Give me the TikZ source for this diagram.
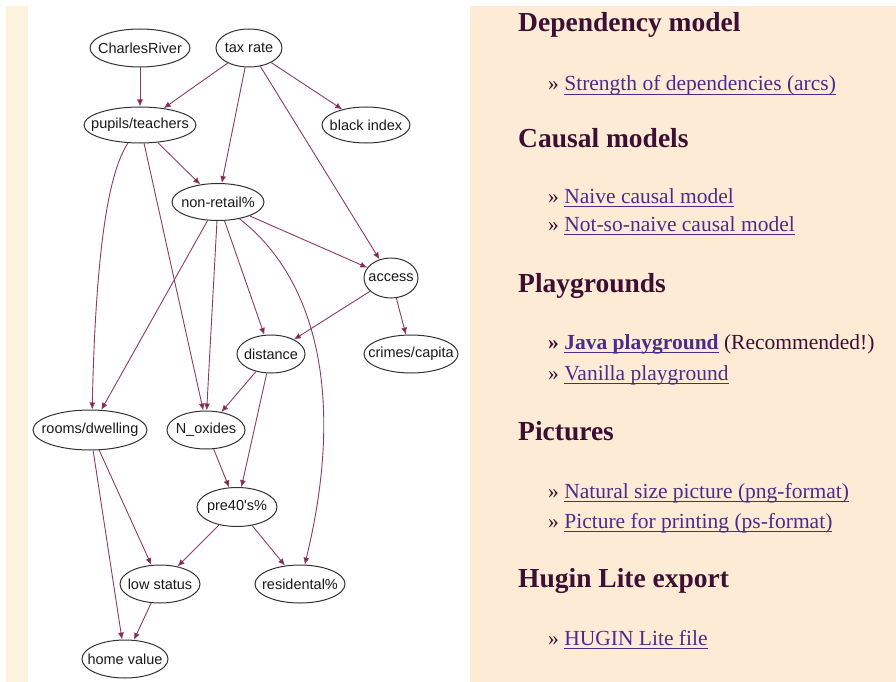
\documentclass[tikz,border=0pt]{standalone}
\usepackage{fontspec}
\setmainfont{Liberation Serif}
\newfontfamily\nodefont{Liberation Sans}
\usetikzlibrary{shapes.geometric,arrows.meta}

\definecolor{pagebg}{HTML}{FDEBD5}
\definecolor{stripbg}{HTML}{FDF2DE}
\definecolor{headcol}{HTML}{3D0F35}
\definecolor{linkcol}{HTML}{4A2C8C}
\definecolor{edgecol}{HTML}{8E3B63}
\definecolor{tipcol}{HTML}{7A1F4A}
\definecolor{nodeline}{HTML}{333333}

% underlined link text, rule sits just below the baseline
\newcommand\ulnk[1]{\setbox0\hbox{#1}\rlap{\rule[-3.6pt]{\wd0}{0.9pt}}\box0\relax}
% variable name set without widening its ellipse
\newcommand\vname[1]{\makebox[0pt]{#1}}

\tikzset{
  var/.style={ellipse, draw=nodeline, line width=1pt, inner sep=0pt,
    font=\nodefont\fontsize{14.5}{16}\selectfont, text=black!90},
  edge/.style={draw=edgecol, line width=0.9pt,
    -{Latex[length=7pt,width=6pt,fill=tipcol]}},
  heading/.style={anchor=base west, inner sep=0pt, text=headcol,
    font=\fontsize{27.5}{30}\selectfont\bfseries},
  linkline/.style={anchor=base west, inner sep=0pt, text=linkcol,
    font=\fontsize{21.5}{24}\selectfont},
}

\begin{document}
\begin{tikzpicture}[x=1pt,y=-1pt]
\useasboundingbox (0,0) rectangle (896,682);
% backgrounds
\fill[white] (0,0) rectangle (896,682);
\fill[pagebg] (6,6) rectangle (896,682);
\fill[stripbg] (6,6) rectangle (28,682);
\fill[white] (28,6) rectangle (470,682);

% variables
\node[var, minimum width=100pt, minimum height=38pt] (cr) at (140,48) {\vname{CharlesRiver}};
\node[var, minimum width=66pt,  minimum height=38pt] (tx) at (249,48) {\vname{tax rate}};
\node[var, minimum width=112pt, minimum height=36pt] (pt) at (140,125) {\vname{pupils/teachers}};
\node[var, minimum width=88pt,  minimum height=36pt] (bi) at (366,125) {\vname{black index}};
\node[var, minimum width=92pt,  minimum height=37pt] (nr) at (218,202) {\vname{non-retail\%}};
\node[var, minimum width=54pt,  minimum height=40pt] (ac) at (391,278) {\vname{access}};
\node[var, minimum width=68pt,  minimum height=38pt] (di) at (271,354) {\vname{distance}};
\node[var, minimum width=94pt,  minimum height=38pt] (cc) at (411,354) {\vname{crimes/capita}};
\node[var, minimum width=114pt, minimum height=40pt] (rd) at (90,430) {\vname{rooms/dwelling}};
\node[var, minimum width=78pt,  minimum height=38pt] (no) at (206,430) {\vname{N\_oxides}};
\node[var, minimum width=80pt,  minimum height=39pt] (p4) at (237,507) {\vname{pre40's\%}};
\node[var, minimum width=80pt,  minimum height=38pt] (ls) at (160,584) {\vname{low status}};
\node[var, minimum width=90pt,  minimum height=38pt] (rs) at (300,584) {\vname{residental\%}};
\node[var, minimum width=86pt,  minimum height=38pt] (hv) at (125,659) {\vname{home value}};

% dependencies
\draw[edge] (cr) -- (pt);
\draw[edge] (tx) -- (pt);
\draw[edge] (tx) -- (nr);
\draw[edge] (tx) -- (bi);
\draw[edge] (tx) -- (ac);
\draw[edge] (pt) -- (nr);
\draw[edge] (pt) .. controls (110,170) and (96,240) .. (rd.84);
\draw[edge] (pt) -- (no.98);
\draw[edge] (nr) -- (ac);
\draw[edge] (nr) -- (di);
\draw[edge] (nr) -- (no.88);
\draw[edge] (nr) -- (rd);
\draw[edge] (nr) .. controls (318,280) and (345,400) .. (rs);
\draw[edge] (ac) -- (di);
\draw[edge] (ac) -- (cc);
\draw[edge] (di) -- (no);
\draw[edge] (di) -- (p4);
\draw[edge] (no) -- (p4);
\draw[edge] (rd) -- (ls);
\draw[edge] (rd) -- (hv);
\draw[edge] (p4) -- (ls);
\draw[edge] (p4) -- (rs);
\draw[edge] (ls) -- (hv);

% side menu
\node[heading] (h1) at (518,32) {Dependency model};
\node[linkline] (l1) at (548,91) {\textcolor{headcol}{»} \ulnk{Strength of dependencies (arcs)}};
\node[heading] (h2) at (518,147) {Causal models};
\node[linkline] (l2) at (548,203) {\textcolor{headcol}{»} \ulnk{Naive causal model}};
\node[linkline] (l3) at (548,231) {\textcolor{headcol}{»} \ulnk{Not-so-naive causal model}};
\node[heading] (h3) at (518,292) {Playgrounds};
\node[linkline] (l4) at (548,349) {\textcolor{headcol}{\bfseries »} \ulnk{\bfseries Java playground} \textcolor{headcol}{(Recommended!)}};
\node[linkline] (l5) at (548,380) {\textcolor{headcol}{»} \ulnk{Vanilla playground}};
\node[heading] (h4) at (518,440) {Pictures};
\node[linkline] (l6) at (548,498) {\textcolor{headcol}{»} \ulnk{Natural size picture (png-format)}};
\node[linkline] (l7) at (548,528) {\textcolor{headcol}{»} \ulnk{Picture for printing (ps-format)}};
\node[heading] (h5) at (518,587) {Hugin Lite export};
\node[linkline] (l8) at (548,645) {\textcolor{headcol}{»} \ulnk{HUGIN Lite file}};
\end{tikzpicture}
\end{document}
